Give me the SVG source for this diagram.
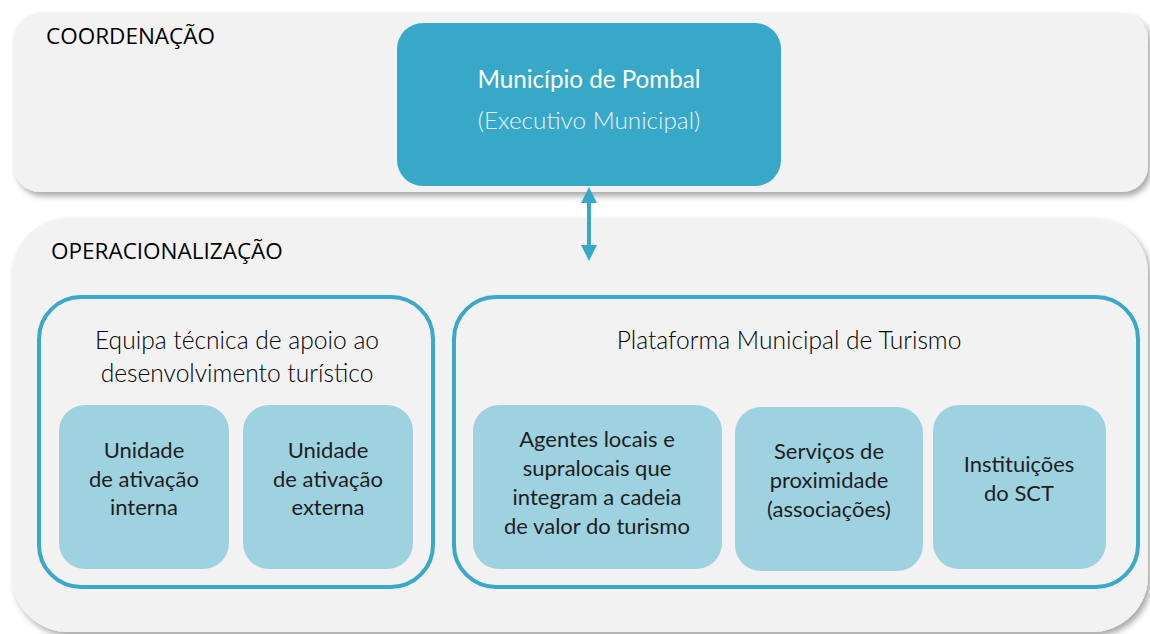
<svg xmlns="http://www.w3.org/2000/svg" width="1150" height="634" viewBox="0 0 1150 634">
<defs>
<filter id="sh" x="-5%" y="-10%" width="115%" height="130%">
<feDropShadow dx="3" dy="4" stdDeviation="3" flood-color="#000" flood-opacity="0.35"/>
</filter>
<marker id="ah" viewBox="0 0 10 10" refX="5" refY="5" markerWidth="4" markerHeight="4" orient="auto-start-reverse" markerUnits="strokeWidth">
<path d="M0,0 L10,5 L0,10 z" fill="#37a8c8"/>
</marker>
<style>
.panel{fill:#f2f2f2;}
.sec{font-family:"Open Sans","Liberation Sans",sans-serif;font-size:22.5px;fill:#000;}
.outline{fill:#f2f2f2;stroke:#3aa8c8;stroke-width:4;}
.inner{fill:#9ed2e0;}
.t{font-family:Lato,"Open Sans","Liberation Sans",sans-serif;fill:#1e1e1e;text-anchor:middle;}
.title{font-size:24.6px;font-weight:300;fill:#000;}
.body{font-size:22px;}
</style>
</defs>
<rect width="1150" height="634" fill="#ffffff"/>
<g id="coordenacao">
<rect class="panel" x="14" y="13" width="1134" height="179" rx="26" filter="url(#sh)"/>
<text class="sec" x="46" y="44">COORDENAÇÃO</text>
</g>
<g id="operacionalizacao">
<rect class="panel" x="12" y="218" width="1136" height="414" rx="56" filter="url(#sh)"/>
<text class="sec" x="51" y="259">OPERACIONALIZAÇÃO</text>
</g>
<g id="municipio">
<rect x="397" y="23" width="384" height="163" rx="26" fill="#37a8c8"/>
<text class="t" x="589" y="88" font-size="24.2" style="fill:#ffffff">Município de Pombal</text>
<text class="t" x="589" y="129" font-size="24.3" font-weight="300" style="fill:#e6f4f9">(Executivo Municipal)</text>
</g>
<g id="connectors">
<line x1="589" y1="195" x2="589" y2="253" stroke="#37a8c8" stroke-width="4" marker-start="url(#ah)" marker-end="url(#ah)"/>
</g>
<g id="equipa">
<rect class="outline" x="39" y="297" width="394" height="290" rx="42"/>
<text class="t title" x="237" y="349">Equipa técnica de apoio ao</text>
<text class="t title" x="237" y="382">desenvolvimento turístico</text>
</g>
<g id="unidade-interna">
<rect class="inner" x="59" y="405" width="170" height="164" rx="26"/>
<text class="t body" x="144" y="458">Unidade</text>
<text class="t body" x="144" y="487">de ativação</text>
<text class="t body" x="144" y="515">interna</text>
</g>
<g id="unidade-externa">
<rect class="inner" x="243" y="405" width="170" height="164" rx="26"/>
<text class="t body" x="328" y="458">Unidade</text>
<text class="t body" x="328" y="487">de ativação</text>
<text class="t body" x="328" y="515">externa</text>
</g>
<g id="plataforma">
<rect class="outline" x="454" y="297" width="684" height="290" rx="42"/>
<text class="t title" x="789" y="349">Plataforma Municipal de Turismo</text>
</g>
<g id="agentes">
<rect class="inner" x="473" y="405" width="249" height="164" rx="26"/>
<text class="t body" x="597" y="447">Agentes locais e</text>
<text class="t body" x="597" y="476">supralocais que</text>
<text class="t body" x="597" y="505">integram a cadeia</text>
<text class="t body" x="597" y="534">de valor do turismo</text>
</g>
<g id="servicos">
<rect class="inner" x="735" y="407" width="188" height="164" rx="26"/>
<text class="t body" x="829" y="459">Serviços de</text>
<text class="t body" x="829" y="488">proximidade</text>
<text class="t body" x="829" y="517">(associações)</text>
</g>
<g id="instituicoes">
<rect class="inner" x="933" y="405" width="173" height="164" rx="26"/>
<text class="t body" x="1019" y="472">Instituições</text>
<text class="t body" x="1019" y="501">do SCT</text>
</g>
</svg>
